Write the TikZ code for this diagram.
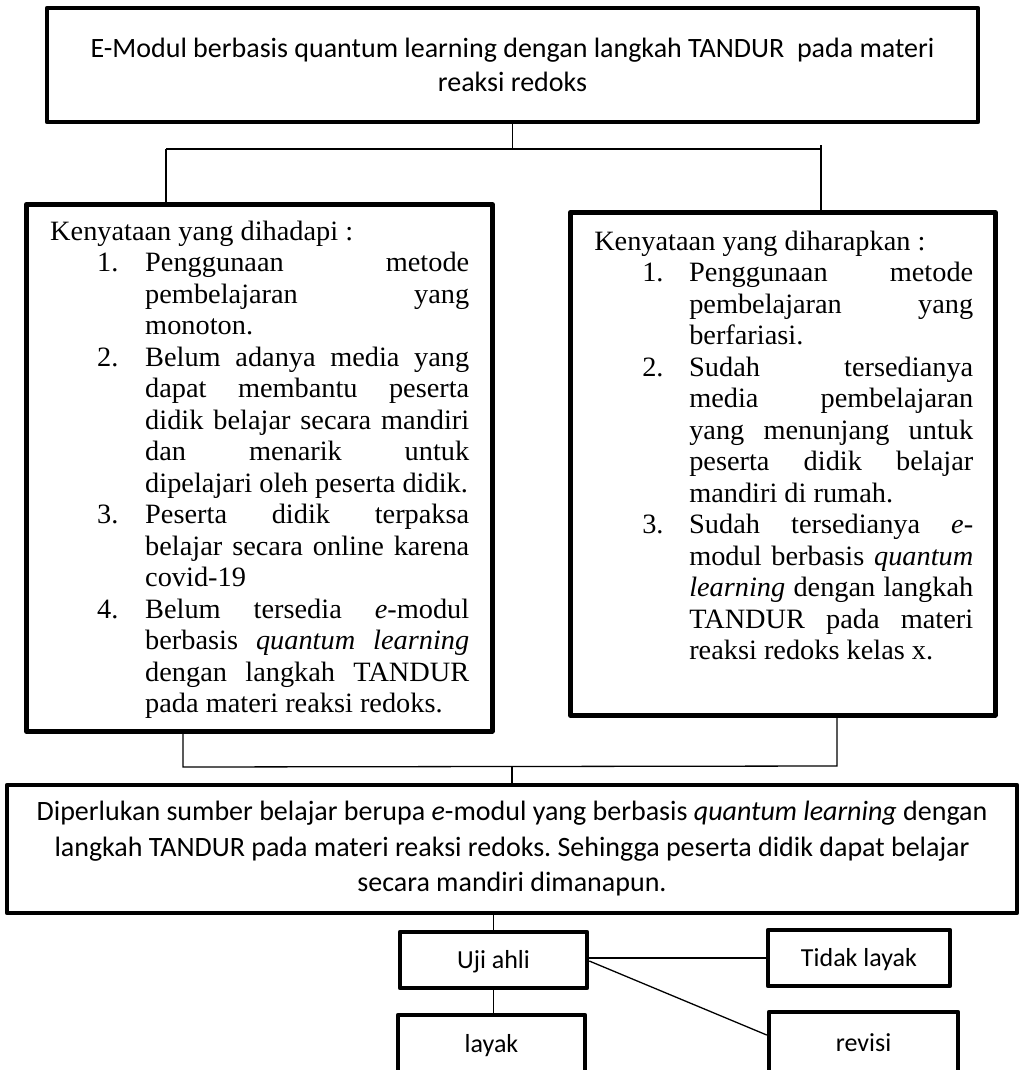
\documentclass[tikz,border=0pt]{standalone}
\usepackage{fontspec}
\newfontfamily\camb{Liberation Serif}[FakeStretch=1.012]
\newfontfamily\cali{Carlito}
\frenchspacing
\newlength\hoff \newlength\noff \newlength\numw \newlength\ioff \newlength\itw
\newcommand\Hd[2]{\hbox to\hsize{\rule{0pt}{#1}\hspace*{\hoff}#2\hfil}}
\newcommand\Nj[2]{\hbox to\hsize{\hspace*{\noff}\makebox[\numw][l]{#1}\makebox[\itw][s]{#2}\hfil}}
\newcommand\Jl[1]{\hbox to\hsize{\hspace*{\ioff}\makebox[\itw][s]{#1}\hfil}}
\newcommand\Ll[1]{\hbox to\hsize{\hspace*{\ioff}#1\hfil}}
\newcommand\boxtext[3]{\parbox[t][#1][t]{#2}{\camb\fontsize{28}{31.5}\selectfont\frenchspacing\lineskiplimit=-1000pt\relax #3}}
\tikzset{
  bigbox/.style={draw, line width=4.5pt, line join=round, inner sep=0pt},
  smallbox/.style={draw, line width=4.5pt, line join=round, inner sep=0pt,
    text height=18.5pt, text depth=2.5pt, font=\cali\fontsize{26}{30}\selectfont},
  conn/.style={draw, line width=1.3pt}
}
\begin{document}
\begin{tikzpicture}[x=1pt, y=-1pt]
\useasboundingbox (0,0) rectangle (1021,1070);
\clip (0,0) rectangle (1021,1070);

% top box
\node[bigbox, minimum width=931pt, minimum height=114pt, align=center,
      font=\cali\fontsize{28}{34}\selectfont] (top) at (512.5,65)
  {E-Modul berbasis quantum learning dengan langkah TANDUR\ \ pada materi\\reaksi redoks};

% left box
\node[bigbox, anchor=north west] (lft) at (24,202) {%
  \setlength\hoff{24pt}\setlength\noff{71pt}\setlength\numw{48pt}%
  \setlength\ioff{119pt}\setlength\itw{324pt}%
  \boxtext{527pt}{466pt}{%
    \Hd{36pt}{Kenyataan yang dihadapi :}
    \Nj{1.}{Penggunaan metode}
    \Jl{pembelajaran yang}
    \Ll{monoton.}
    \Nj{2.}{Belum adanya media yang}
    \Jl{dapat membantu peserta}
    \Jl{didik belajar secara mandiri}
    \Jl{dan menarik untuk}
    \Ll{dipelajari oleh peserta didik.}
    \Nj{3.}{Peserta didik terpaksa}
    \Jl{belajar secara online karena}
    \Ll{covid-19}
    \Nj{4.}{Belum tersedia \textit{e}-modul}
    \Jl{berbasis \textit{quantum} \textit{learning}}
    \Jl{dengan langkah TANDUR}
    \Ll{pada materi reaksi redoks.}
  }};

% right box
\node[bigbox, anchor=north west] (rgt) at (568,210) {%
  \setlength\hoff{24pt}\setlength\noff{72pt}\setlength\numw{47pt}%
  \setlength\ioff{119pt}\setlength\itw{284pt}%
  \boxtext{503pt}{425pt}{%
    \Hd{38pt}{Kenyataan yang diharapkan :}
    \Nj{1.}{Penggunaan metode}
    \Jl{pembelajaran yang}
    \Ll{berfariasi.}
    \Nj{2.}{Sudah tersedianya}
    \Jl{media pembelajaran}
    \Jl{yang menunjang untuk}
    \Jl{peserta didik belajar}
    \Ll{mandiri di rumah.}
    \Nj{3.}{Sudah tersedianya \textit{e}-}
    \Jl{modul berbasis \textit{quantum}}
    \Jl{\textit{learning} dengan langkah}
    \Jl{TANDUR pada materi}
    \Ll{reaksi redoks kelas x.}
  }};

% middle box
\node[bigbox, minimum width=1010pt, minimum height=128pt, align=center,
      font=\cali\fontsize{28}{35.5}\selectfont] (mid) at (512,849)
  {Diperlukan sumber belajar berupa \textit{e}-modul yang berbasis \textit{quantum learning} dengan\\
   langkah TANDUR pada materi reaksi redoks. Sehingga peserta didik dapat belajar\\
   secara mandiri dimanapun.};

% small boxes
\node[smallbox, minimum width=187pt, minimum height=56pt] (uji) at (493.5,960) {Uji ahli};
\node[smallbox, minimum width=182pt, minimum height=56pt] (tidak) at (859,958) {Tidak layak};
\node[smallbox, minimum width=187pt, minimum height=58pt] (layak) at (491.5,1044) {layak};
\node[smallbox, minimum width=189pt, minimum height=62pt] (revisi) at (863.5,1043) {revisi};

% connectors
\coordinate (jl) at (166,149);
\coordinate (jr) at (821,149);
\draw[conn] (top.south) -- (top.south |- jl);
\draw[conn] (jl) -- (jr);
\draw[conn] (jl) -- (jl |- lft.north);
\draw[conn] ([yshift=4pt]jr) -- (jr |- rgt.north);

\coordinate (kl) at (183,767);
\coordinate (kr) at (837,766);
\draw[conn] (kl |- lft.south) -- (kl) -- (kr) -- (kr |- rgt.south);
\draw[conn] (mid.north) -- (mid.north |- kl);

\draw[conn] (mid.south -| uji.north) -- (uji.north);
\draw[conn] (uji.south) -- (uji.south |- layak.north);
\draw[conn] (tidak.west) -- (tidak.west -| uji.east);
\draw[conn] ([yshift=-1pt]uji.east) -- ([yshift=8pt]revisi.west);
\end{tikzpicture}
\end{document}
